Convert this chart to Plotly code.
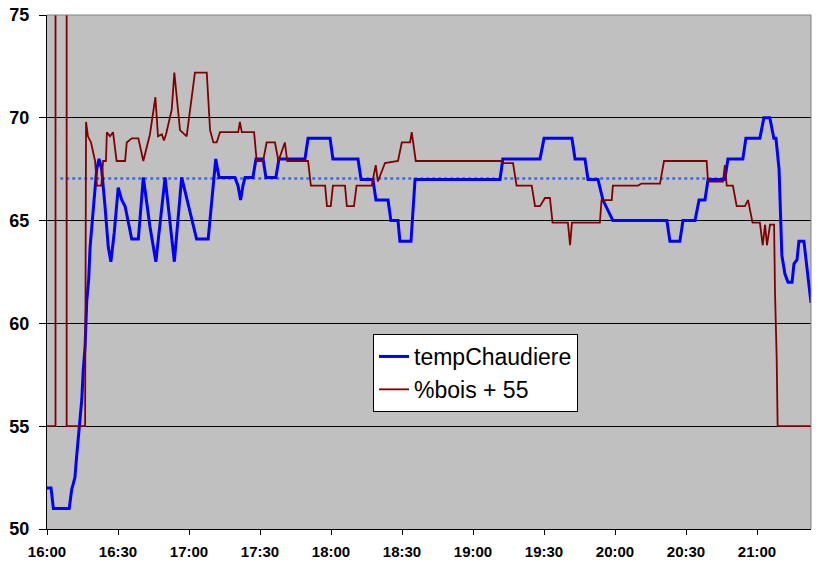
import pandas as pd
import plotly.graph_objects as go

# time offsets in minutes after 16:00
temp_min = [0, 1.7, 2.7, 9.4, 10.4, 11.8, 12.5, 13.6, 14.7, 15.3, 16.1, 16.8, 17.6, 18.2, 19.6, 21.0, 22.0,
            23.1, 24.5, 25.9, 27.0, 28.4, 30.1, 31.6, 33.0, 34.3, 35.8, 38.6, 40.7, 43.5, 46.0, 49.9, 52.0,
            53.8, 56.9, 59.7, 61.8, 63.2, 68.1, 69.6, 71.3, 72.7, 79.4, 80.7, 81.8, 82.8, 83.7, 87.0, 88.3,
            91.3, 92.5, 96.7, 98.0, 109.0, 110.3, 119.6, 120.8, 131.4, 132.7, 137.7, 139.0, 144.1, 145.3,
            148.3, 149.1, 153.8, 155.5, 191.4, 192.6, 208.3, 210.0, 221.8, 223.1, 227.3, 228.6, 232.8, 234.9,
            239.1, 261.9, 263.2, 267.4, 268.7, 273.8, 275.5, 278.0, 279.3, 286.4, 287.7, 294.0, 295.3, 301.2,
            302.9, 305.4, 307.1, 308.0, 309.3, 310.0, 310.5, 311.8, 313.1, 314.8, 315.6, 316.9, 317.7, 319.8,
            321.1, 322.8]
temp_val = [52.0, 52.0, 51.0, 51.0, 51.9, 52.5, 53.5, 55.0, 56.3, 57.7, 58.9, 61.1, 62.1, 63.7, 65.7, 67.5, 68.0,
            67.5, 65.7, 63.7, 63.0, 64.4, 66.6, 66.0, 65.7, 64.9, 64.1, 64.1, 67.1, 64.7, 63.0, 67.1, 65.0,
            63.0, 67.1, 65.7, 64.7, 64.1, 64.1, 66.0, 68.0, 67.1, 67.1, 66.7, 66.0, 66.7, 67.1, 67.1, 68.0,
            68.0, 67.1, 67.1, 68.0, 68.0, 69.0, 69.0, 68.0, 68.0, 67.0, 67.0, 66.0, 66.0, 65.0,
            65.0, 64.0, 64.0, 67.0, 67.0, 68.0, 68.0, 69.0, 69.0, 68.0, 68.0, 67.0, 67.0, 66.0,
            65.0, 65.0, 64.0, 64.0, 65.0, 65.0, 66.0, 66.0, 67.0, 67.0, 68.0, 68.0, 69.0, 69.0,
            70.0, 70.0, 69.0, 69.0, 67.5, 64.5, 63.3, 62.4, 62.0, 62.0, 62.9, 63.1, 64.0, 64.0,
            62.7, 61.0]

bois_min = [0, 3.6, 3.6, 8.3, 8.3, 16.1, 16.5, 17.3, 18.6, 20.3, 21.1, 23.0, 23.7, 24.9, 25.3, 26.6, 27.9,
            29.4, 33.0, 33.7, 35.8, 38.6, 40.7, 43.5, 45.8, 46.9, 48.5, 49.4, 50.3, 52.7, 53.8, 54.8, 56.2,
            59.0, 62.5, 67.5, 68.9, 70.3, 71.7, 73.1, 80.8, 81.5, 82.3, 87.5, 88.6, 91.3, 92.8, 96.3, 97.8,
            100.5, 101.5, 110.3, 111.5, 117.5, 118.3, 119.9, 120.8, 125.9, 126.7, 129.7, 130.8, 137.2, 138.9,
            139.8, 142.8, 148.3, 149.9, 153.4, 154.1, 155.8, 192.1, 192.6, 196.9, 198.4, 204.8, 206.2, 208.3,
            210.4, 212.5, 213.6, 220.1, 221.0, 221.8, 233.6, 234.3, 238.6, 239.1, 249.7, 251.2, 259.0, 260.7,
            278.7, 279.3, 285.6, 286.4, 287.2, 289.8, 291.4, 294.9, 296.2, 298.1, 301.2, 302.4, 303.4, 304.2,
            305.5, 307.2, 307.6, 308.3, 308.7, 322.8]
bois_val = [55.0, 55.0, 155.0, 155.0, 55.0, 55.0, 69.8, 69.1, 68.8, 67.9, 66.7, 66.7, 67.9, 67.9, 69.3, 69.1, 69.3,
            67.9, 67.9, 68.8, 69.0, 69.0, 67.9, 69.2, 71.0, 69.1, 69.2, 68.9, 69.2, 70.4, 72.2, 70.9, 69.4,
            69.1, 72.2, 72.2, 69.4, 68.8, 68.8, 69.3, 69.3, 69.8, 69.3, 69.3, 67.9, 67.9, 68.8, 68.8, 67.9,
            68.8, 67.9, 67.9, 66.7, 66.7, 65.7, 65.7, 66.7, 66.7, 65.7, 65.7, 66.7, 66.7, 67.7,
            66.9, 67.8, 67.9, 68.8, 68.8, 69.3, 67.9, 67.9, 67.8, 67.8, 66.7, 66.7, 65.7, 65.7,
            66.1, 66.1, 64.9, 64.9, 63.8, 64.9, 64.9, 66.0, 66.0, 66.7, 66.7, 66.8, 66.8, 67.9,
            67.9, 66.9, 66.9, 67.7, 66.7, 66.7, 65.7, 65.7, 66.0, 64.9, 64.9, 63.8, 64.8, 63.8,
            64.8, 64.8, 61.5, 58.3, 55.0, 55.0]

avg_min = [5.6, 287.3]
avg_val = [67.05, 67.05]

x_ticks = ["16:00", "16:30", "17:00", "17:30", "18:00", "18:30", "19:00", "19:30", "20:00", "20:30", "21:00"]
y_ticks = [50, 55, 60, 65, 70, 75]

base = pd.Timestamp("2010-01-01 16:00")
to_t = lambda mins: [base + pd.Timedelta(minutes=m) for m in mins]

fig = go.Figure()
fig.add_trace(go.Scatter(x=to_t(avg_min), y=avg_val, mode="lines", showlegend=False,
                         line=dict(color="#4169E1", width=2.5, dash="dot")))
fig.add_trace(go.Scatter(x=to_t(temp_min), y=temp_val, mode="lines", name="tempChaudiere",
                         line=dict(color="#0000FF", width=3)))
fig.add_trace(go.Scatter(x=to_t(bois_min), y=bois_val, mode="lines", name="%bois + 55",
                         line=dict(color="#800000", width=1.8)))

tickpos = [pd.Timestamp("2010-01-01 " + t) for t in x_ticks]
fig.update_layout(
    width=825, height=570,
    margin=dict(l=47, r=14, t=15, b=41),
    paper_bgcolor="white", plot_bgcolor="#C0C0C0",
    font=dict(family="Liberation Sans, Arial, sans-serif", color="black"),
    xaxis=dict(range=[base, base + pd.Timedelta(minutes=322.8)], tickvals=tickpos, ticktext=x_ticks,
               showgrid=False, showline=True, linecolor="black", linewidth=1,
               ticks="outside", ticklen=5, tickcolor="black", automargin=False,
               tickfont=dict(size=15, family="Liberation Sans, Arial", weight="bold"), zeroline=False,
               ticklabelstandoff=4, ticklabeloverflow="allow"),
    yaxis=dict(range=[50, 75], tickvals=y_ticks, showgrid=True, gridcolor="black", gridwidth=1,
               showline=True, linecolor="black", linewidth=1, ticks="outside", ticklen=7, tickcolor="black",
               tickfont=dict(size=18, family="Liberation Sans, Arial", weight="bold"), zeroline=False,
               ticklabelstandoff=6, automargin=False, ticklabeloverflow="allow"),
    legend=dict(x=0.4267, y=0.3794, xanchor="left", yanchor="top", bgcolor="white",
                bordercolor="black", borderwidth=1, font=dict(size=23, family="Liberation Sans, Arial"),
                tracegroupgap=0),
    showlegend=True,
)
fig.add_shape(type="line", xref="paper", yref="paper", x0=0, x1=1, y0=1, y1=1,
              line=dict(color="#808080", width=1))
fig.add_shape(type="line", xref="paper", yref="paper", x0=1, x1=1, y0=0, y1=1,
              line=dict(color="#808080", width=1))
fig.write_html("out.html", config={"displayModeBar": False},
               post_script="document.body.style.margin='0';document.body.style.overflow='hidden';")
